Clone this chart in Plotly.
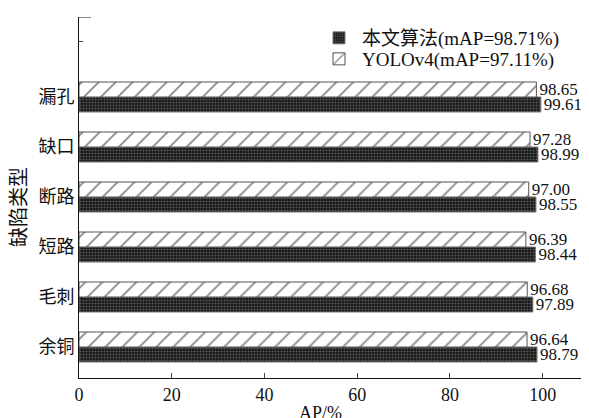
import plotly.graph_objects as go

categories = ["余铜", "毛刺", "短路", "断路", "缺口", "漏孔"]
ours = [98.79, 97.89, 98.44, 98.55, 98.99, 99.61]
yolo = [96.64, 96.68, 96.39, 97.00, 97.28, 98.65]
name_ours = "本文算法(mAP=98.71%)"
name_yolo = "YOLOv4(mAP=97.11%)"
xticks = [0, 20, 40, 60, 80, 100]
x_title = "AP/%"
y_title = "缺陷类型"

ypos = list(range(len(categories)))
serif = "Liberation Serif, Noto Sans CJK SC"

# page body has an 8px margin; size the figure so it ends at the window edge
OFF = 8
W, H = 589 - OFF, 418 - OFF
L, R, T, B = 79 - OFF, 0, 17 - OFF, 418 - 378
pw, ph = W - L - R, H - T - B

def px_x(xp):
    return (xp - OFF - L) / pw

def px_y(yp):
    return (H - B - (yp - OFF)) / ph

fig = go.Figure()
fig.add_trace(go.Bar(
    y=ypos, x=ours, orientation="h", name=name_ours, legend="legend",
    marker=dict(color="#1a1a1a", line=dict(color="#777", width=1),
                pattern=dict(shape=".", fgcolor="#999999", bgcolor="#161616", size=3, solidity=0.4)),
    text=[f"{v:.2f}" for v in ours], textposition="outside", constraintext="none",
    textfont=dict(family=serif, size=17, color="#111"), cliponaxis=False,
))
fig.add_trace(go.Bar(
    y=ypos, x=yolo, orientation="h", name=name_yolo, legend="legend2",
    marker=dict(color="white", line=dict(color="#555", width=1),
                pattern=dict(shape="/", fgcolor="#111", bgcolor="white", size=12, solidity=0.15)),
    text=[f"{v:.2f}" for v in yolo], textposition="outside", constraintext="none",
    textfont=dict(family=serif, size=17, color="#111"), cliponaxis=False,
))

fig.add_shape(type="line", xref="x", yref="y", x0=0, x1=2.6, y0=6.6, y1=6.6,
              line=dict(color="#111", width=1))

fig.add_annotation(text=x_title, xref="paper", yref="paper",
                   x=px_x(320), y=px_y(401), xanchor="center", yanchor="top",
                   showarrow=False, font=dict(family=serif, size=18, color="#111"))
fig.add_annotation(text=y_title, xref="paper", yref="paper", textangle=-90,
                   x=px_x(19), y=px_y(207), xanchor="center", yanchor="middle",
                   showarrow=False, font=dict(family=serif, size=20, color="#111"))

legend_common = dict(xanchor="left", yanchor="middle", font=dict(family=serif, size=19),
                     bgcolor="rgba(0,0,0,0)", itemwidth=36)

fig.update_layout(
    width=W, height=H,
    margin=dict(l=L, r=R, t=T, b=B),
    barmode="group", bargap=0.4, bargroupgap=0.0,
    plot_bgcolor="white", paper_bgcolor="white",
    font=dict(family=serif, color="#111", size=17),
    showlegend=True,
    legend=dict(x=px_x(316), y=px_y(38), **legend_common),
    legend2=dict(x=px_x(316), y=px_y(59), **legend_common),
    xaxis=dict(range=[0, 110], tickvals=xticks, ticks="inside", ticklen=5,
               showline=True, linecolor="#111", linewidth=1, showgrid=False, zeroline=False,
               tickfont=dict(family=serif, size=18), automargin=False),
    yaxis=dict(range=[-0.62, 6.6], tickvals=ypos + [6.12], ticktext=categories + [""],
               ticks="inside", ticklen=4, showline=True, linecolor="#111", linewidth=1,
               showgrid=False, zeroline=False, tickfont=dict(family=serif, size=18),
               automargin=False),
)

fig.write_html("out.html")
